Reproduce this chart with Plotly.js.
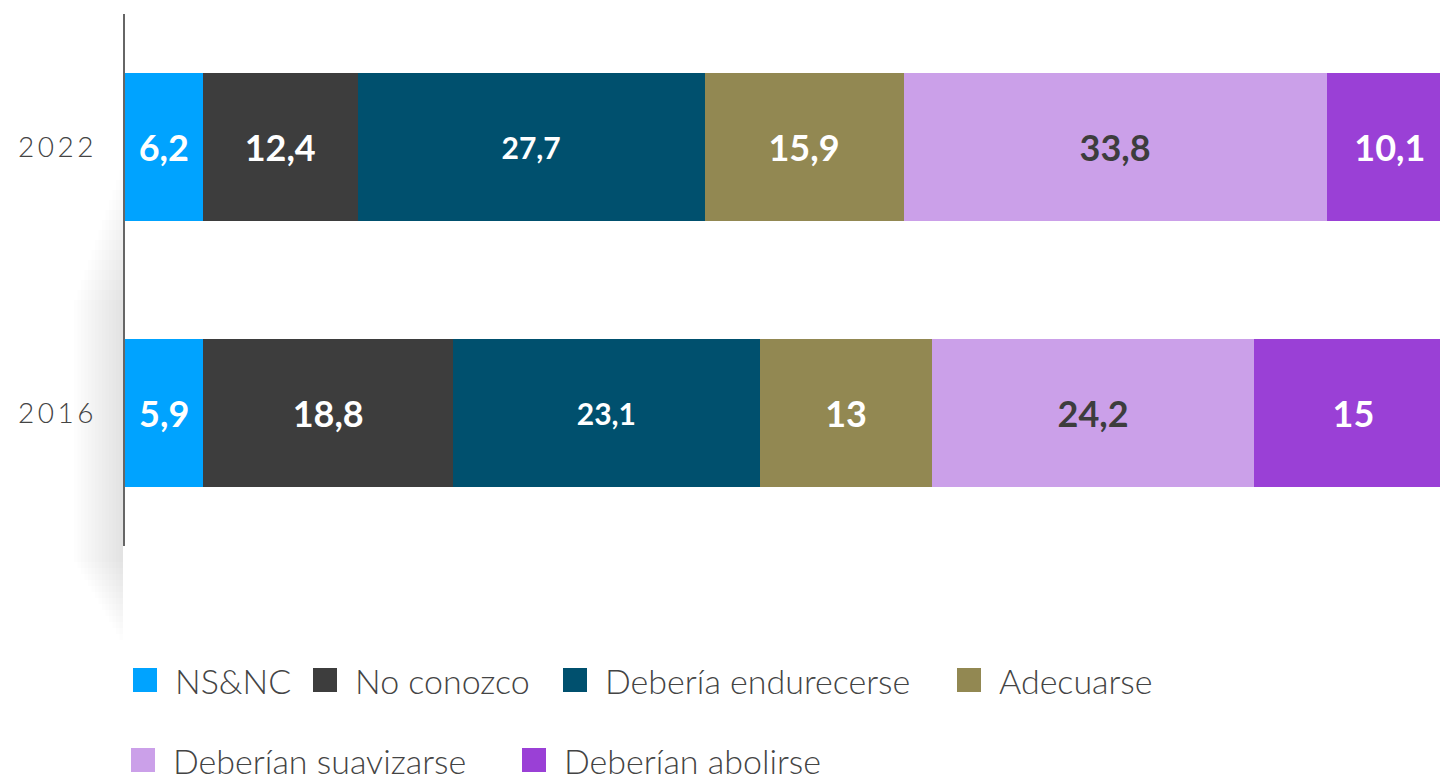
<!DOCTYPE html>
<html>
<head>
<meta charset="utf-8">
<script src="https://cdn.plot.ly/plotly-3.0.1.min.js"></script>
<style>
  html, body { margin: 0; padding: 0; background: #ffffff; overflow: hidden; }
  #chart { width: 1440px; height: 781px; }
</style>
</head>
<body>
<div id="chart"></div>
<script>
// ---- data ----
const years = ["2016", "2022"];
const seriesNames = ["NS&NC", "No conozco", "Debería endurecerse", "Adecuarse", "Deberían suavizarse", "Deberían abolirse"];
const nsnc        = [5.9, 6.2];
const noConozco   = [18.8, 12.4];
const endurecerse = [23.1, 27.7];
const adecuarse   = [13, 15.9];
const suavizarse  = [24.2, 33.8];
const abolirse    = [15, 10.1];
const seriesValues = [nsnc, noConozco, endurecerse, adecuarse, suavizarse, abolirse];

// ---- styles ----
const colors = ["#00A3FF", "#3D3D3D", "#00506E", "#928852", "#CBA0E9", "#9A40D6"];
const labelColors = ["#FFFFFF", "#FFFFFF", "#FFFFFF", "#FFFFFF", "#3D3D3D", "#FFFFFF"];
const labelSizes = [36, 36, 30, 36, 36, 36];
const FONT = "Lato, 'Open Sans', sans-serif";

function fmt(v) { return String(v).replace(".", ","); }

const traces = seriesValues.map((vals, i) => ({
  type: "bar",
  orientation: "h",
  name: seriesNames[i],
  y: years,
  x: vals,
  text: vals.map(fmt),
  textposition: "inside",
  insidetextanchor: "middle",
  textangle: 0,
  constraintext: "none",
  textfont: { family: FONT, size: labelSizes[i], color: labelColors[i], weight: 700 },
  marker: { color: colors[i], line: { width: 0 } },
  hoverinfo: "name+x",
  showlegend: false
}));

// ---- custom legend (layout) ----
const W = 1440, H = 781;
const ML = 125, MR = 0, MT = 14, MB = 235;
const PW = W - ML - MR, PH = H - MT - MB;
const px2x = p => (p - ML) / PW;
const py2y = p => (H - MB - p) / PH;

const legendSquareX = [133, 313, 563, 957, 131, 522];
const legendRowY = [680, 760];
const legendRow = [0, 0, 0, 0, 1, 1];
const SQ = 24;

const shapes = [];
const annotations = [];
seriesNames.forEach((name, i) => {
  const x0 = legendSquareX[i];
  const yc = legendRowY[legendRow[i]];
  shapes.push({
    type: "rect", xref: "paper", yref: "paper",
    x0: px2x(x0), x1: px2x(x0 + SQ),
    y0: py2y(yc + SQ / 2), y1: py2y(yc - SQ / 2),
    fillcolor: colors[i], line: { width: 0 }, layer: "above"
  });
  annotations.push({
    xref: "paper", yref: "paper",
    x: px2x(x0 + SQ + 16), y: py2y(yc),
    xanchor: "left", yanchor: "middle",
    text: name, showarrow: false,
    font: { family: FONT, size: 34, color: "#444444", weight: 300 }
  });
});

// soft shadow to the left of the axis line
const shadowSteps = 14;
for (let k = 0; k < shadowSteps; k++) {
  shapes.push({
    type: "rect", xref: "paper", yref: "paper",
    x0: px2x(123 - 3.5 * (k + 1)), x1: px2x(123),
    y0: py2y(640 - 6 * k), y1: py2y(170 + 10 * k),
    fillcolor: "rgba(0,0,0,0.009)", line: { width: 0 }, layer: "below"
  });
}

const layout = {
  width: W, height: H,
  margin: { l: ML, r: MR, t: MT, b: MB, pad: 0 },
  paper_bgcolor: "#FFFFFF",
  plot_bgcolor: "rgba(0,0,0,0)",
  barmode: "stack",
  barnorm: "percent",
  bargap: 0.444,
  showlegend: false,
  font: { family: FONT, color: "#444444" },
  xaxis: {
    range: [0, 100 * PW / 1328],
    showgrid: false, zeroline: false, showline: false,
    showticklabels: false, ticks: "", fixedrange: true
  },
  yaxis: {
    type: "category",
    categoryorder: "array", categoryarray: years,
    tickvals: years,
    ticktext: years.map(y => y.split("").join("\u2009")),
    range: [-0.5, 1.5],
    showgrid: false, zeroline: false,
    showline: true, linecolor: "#666666", linewidth: 2,
    ticks: "", ticklabelstandoff: 24,
    tickfont: { family: FONT, size: 28, color: "#444444", weight: 300 },
    fixedrange: true
  },
  shapes: shapes,
  annotations: annotations
};

Plotly.newPlot("chart", traces, layout, { displayModeBar: false, staticPlot: true });
</script>
</body>
</html>
